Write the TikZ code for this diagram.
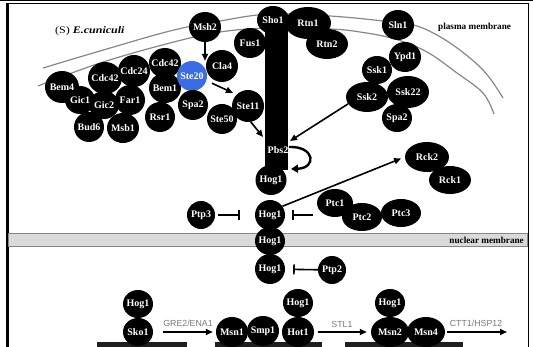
\documentclass[tikz,border=0pt]{standalone}
\usepackage{graphicx}
\usepackage{fontspec}
\setmainfont{Liberation Serif}
\newfontfamily\sansf{Liberation Sans}
\usetikzlibrary{shapes.geometric,arrows.meta,calc}
\definecolor{stblue}{RGB}{58,108,228}
\definecolor{memgray}{RGB}{135,135,135}
\definecolor{bandfill}{RGB}{218,218,218}
\definecolor{lblgray}{RGB}{120,120,120}
\begin{document}
\begin{tikzpicture}[x=1pt,y=-1pt,
  blob/.style={ellipse, inner sep=0pt, draw=none},
  ptxt/.style={text=white, font=\bfseries\fontsize{10}{11}\selectfont, inner sep=0pt},
  arr/.style={line width=1.6pt, -{Triangle[length=7pt,width=6pt]}},
  inh/.style={line width=1.6pt, -{Bar[width=10pt,line width=1.6pt]}},
  mem/.style={draw=memgray, line width=1.2pt},
  glbl/.style={text=lblgray, font=\sansf\fontsize{8.8}{10}\selectfont, inner sep=0pt},
  memlbl/.style={font=\bfseries\fontsize{9.2}{10}\selectfont, inner sep=0pt},
]
\useasboundingbox (0,0) rectangle (533,347);
% frame
\draw[line width=1.4pt] (0,0.7) -- (533,0.7);
\draw[line width=1pt] (7,3.4) -- (528,3.4);
\draw[line width=2.4pt] (7.5,3) -- (7.5,347);
\draw[line width=1.6pt] (528.5,3) -- (528.5,347);
% plasma membrane
\draw[mem] plot[smooth, tension=0.6] coordinates {(43,68) (100,51) (170,31) (220,21) (270,14) (330,16) (383,21) (417,26) (450,43) (483,70) (503,98)};
\draw[mem] plot[smooth, tension=0.6] coordinates {(38,86) (100,63) (170,43) (220,32) (270,28) (330,29) (360,32) (395,39) (427,52) (457,73) (483,93) (494,114)};
\node[memlbl, anchor=west] (pmlbl) at (438,27) {plasma membrane};
\node[anchor=west, inner sep=0pt, font=\fontsize{10}{11}\selectfont] (title) at (55,31) {\scalebox{1.2}[1]{(S) \textbf{\textit{E.cuniculi}}}};
% nuclear membrane
\filldraw[fill=bandfill, draw=memgray, line width=0.8pt] (8.5,233) rectangle (527.5,246);
\node[memlbl, anchor=east] (nmlbl) at (524,240) {nuclear membrane};
% promoter bars
\fill[black!88] (97,342) rectangle (187,350);
\fill[black!88] (215,342) rectangle (322,350);
\fill[black!88] (345,342) rectangle (463,350);
% Sho1-Pbs2 bar
\node[fill=black, inner sep=0pt, minimum width=23pt, minimum height=148pt] (bar) at (276,96) {};
\def\protlist{bem4/62/87/34/32/Bem4/black, cdc42a/105/78/34/32/Cdc42/black, cdc24/134/71/32/32/Cdc24/black,
 cdc42b/165/63/32/30/Cdc42/black, bem1/165/88/32/30/Bem1/black, gic1/80/100/30/28/Gic1/black,
 gic2/104/105/30/28/Gic2/black, far1/130/100/30/30/Far1/black, rsr1/160/117/30/30/Rsr1/black,
 bud6/89/127/30/30/Bud6/black, msb1/123/128/32/30/Msb1/black, msh2/205/27/32/30/Msh2/black,
 ste20/192/76/30/30/Ste20/stblue, cla4/222/66/32/32/Cla4/black, fus1/250/43/32/30/Fus1/black,
 sho1/273/20/32/28/Sho1/black, rtn1/308/23/46/32/Rtn1/black, rtn2/327/44/42/30/Rtn2/black,
 spa2a/193/105/30/30/Spa2/black, ste11/248/106/32/32/Ste11/black, ste50/222/119/30/30/Ste50/black,
 sln1/398/25/32/30/Sln1/black, ypd1/405/57/32/30/Ypd1/black, ssk1/377/70/30/28/Ssk1/black,
 ssk2/367/97/42/30/Ssk2/black, ssk22/408/92/42/32/Ssk22/black, spa2b/397/118/30/28/Spa2/black,
 hog1a/271/180/31/30/Hog1/black, hog1b/270/215/30/30/Hog1/black, hog1c/270/241/30/28/Hog1/black,
 hog1d/270/269/30/30/Hog1/black, ptp3/201/215/28/28/Ptp3/black, ptc1/335/203/36/28/Ptc1/black,
 ptc2/362/217/40/28/Ptc2/black, ptc3/401/213/40/28/Ptc3/black, ptp2/332/270/28/28/Ptp2/black,
 rck2/427/157/44/30/Rck2/black, rck1/450/180/42/28/Rck1/black, hog1e/138/304/30/28/Hog1/black,
 sko1/138/332/30/28/Sko1/black, msn1/232/332/32/30/Msn1/black, smp1/263/331/32/30/Smp1/black,
 hot1/298/332/32/30/Hot1/black, hog1f/298/303/30/28/Hog1/black, hog1g/390/303/30/28/Hog1/black,
 msn2/390/332/38/30/Msn2/black, msn4/426/332/38/30/Msn4/black}
\foreach \nm/\x/\y/\ww/\hh/\lab/\col in \protlist {
  \node[blob, fill=\col, minimum width=\ww pt, minimum height=\hh pt] (\nm) at (\x,\y) {};
}
\foreach \nm/\x/\y/\ww/\hh/\lab/\col in \protlist {
  \node[ptxt] (\nm-t) at (\nm.center) {\lab};
}
\node[ptxt] (pbs2) at (278,150) {Pbs2};
% connectors
\coordinate (pbsin1) at (263,137);
\coordinate (pbsin2) at (290,141);
\coordinate (loopa) at (289,147);
\coordinate (loopb) at (291,169);
\coordinate (cttend) at (507,332);
\draw[arr] (msh2.south) -- (msh2.south |- ste20.north);
\draw[arr, shorten <=6pt, shorten >=4pt] (ste20.-18) -- (ste11.north west);
\draw[arr] (ste11.-80) -- (pbsin1);
\draw[arr] (ssk2.200) -- (pbsin2);
\draw[line width=2.4pt, -{Triangle[length=7pt,width=8pt]}] (loopa) .. controls (315,146) and (317,168) .. (loopb);
\draw[arr, shorten >=4pt] (hog1b.35) -- (rck2.west);
\draw[inh, shorten <=3pt, shorten >=15pt] (ptp3) -- (hog1b);
\draw[inh, shorten <=4pt, shorten >=7pt] (hog1b -| ptc1.west) -- (hog1b);
\draw[inh, shorten <=0pt, shorten >=8pt] (ptp2) -- (hog1d);
\draw[arr, shorten <=10pt, shorten >=3pt] (sko1) -- (msn1);
\draw[arr, shorten <=4pt, shorten >=4pt] (hot1) -- (msn2);
\draw[arr, shorten <=2pt] (msn4) -- (cttend);
\node[glbl] (gre) at (188,323) {GRE2/ENA1};
\node[glbl] (stl) at (342,324) {STL1};
\node[glbl] (ctt) at (476,323) {CTT1/HSP12};
\end{tikzpicture}
\end{document}
